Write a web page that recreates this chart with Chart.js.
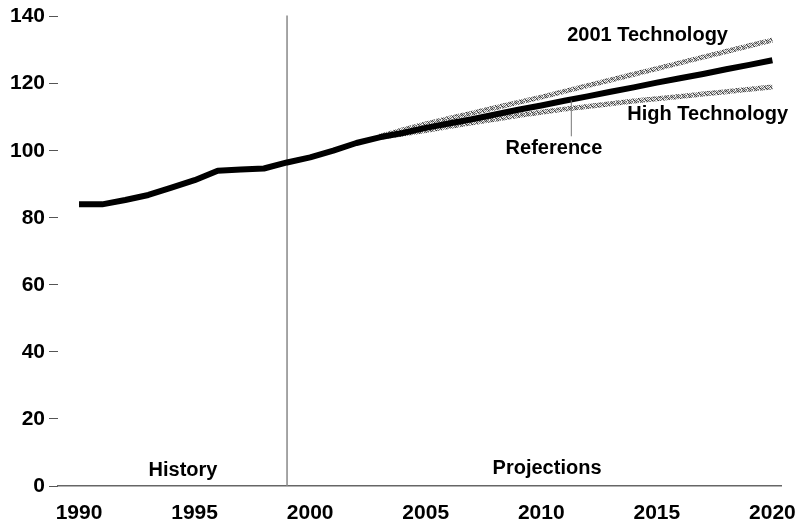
<!DOCTYPE html>
<html lang="en">
<head>
    <meta charset="UTF-8">
    <title>Energy consumption projections</title>
    <script src="https://cdn.jsdelivr.net/npm/chart.js"></script>
    <style>
        html, body {
            margin: 0;
            padding: 0;
            background: #fff;
        }
        .wrap {
            width: 803px;
            height: 527px;
        }
    </style>
</head>
<body>

<div class="wrap">
    <canvas id="energyChart" width="803" height="527"></canvas>
</div>

<script>
    const years = [];
    for (let y = 1990; y <= 2020; y++) years.push(y);

    const reference = [84, 84, 85.3, 86.8, 89, 91.2, 94, 94.4, 94.7, 96.5,
        98, 100, 102.3, 104, 105.3, 106.8, 108.1, 109.4, 110.8, 112.2,
        113.5, 114.9, 116.2, 117.6, 118.9, 120.3, 121.6, 122.9, 124.3, 125.6, 127];

    const techYears = [2003, 2004, 2005, 2006, 2007, 2008, 2009, 2010, 2011,
        2012, 2013, 2014, 2015, 2016, 2017, 2018, 2019, 2020];
    const tech2001 = [104.3, 106.2, 108, 109.6, 111.2, 112.8, 114.4, 116,
        117.7, 119.4, 121.1, 122.8, 124.5, 126.2, 127.9, 129.6, 131.3, 133];
    const highTech = [104, 105, 106, 107.2, 108.3, 109.4, 110.5, 111.5,
        112.4, 113.2, 114, 114.8, 115.5, 116.2, 116.9, 117.6, 118.3, 119];

    const yTicks = [0, 20, 40, 60, 80, 100, 120, 140];
    const xTicks = [1990, 1995, 2000, 2005, 2010, 2015, 2020];
    const historyEnd = 1999;

    // etiquetas: [texto, ano, valor]
    const labels = [
        ['2001 Technology', 2014.6, 134.3],
        ['High Technology', 2017.2, 110.8],
        ['Reference', 2010.55, 100.7],
        ['History', 1994.5, 4.6],
        ['Projections', 2010.25, 5.1]
    ];
    const leader = [2011.3, 115, 104.3];

    const FONT = '"Liberation Sans", Arial, sans-serif';

    // textura cinza (padrão fixo) para as linhas de tecnologia
    function texture() {
        const shades = [
            ['#444', '#ddd', '#888', '#fff', '#666', '#bbb'],
            ['#aaa', '#555', '#eee', '#777', '#ccc', '#444'],
            ['#888', '#fff', '#333', '#bbb', '#999', '#eee'],
            ['#eee', '#777', '#bbb', '#444', '#fff', '#888'],
            ['#555', '#ccc', '#fff', '#888', '#333', '#ccc'],
            ['#ccc', '#888', '#666', '#eee', '#aaa', '#555']
        ];
        const c = document.createElement('canvas');
        c.width = 6;
        c.height = 6;
        const g = c.getContext('2d');
        shades.forEach((row, j) => row.forEach((col, i) => {
            g.fillStyle = col;
            g.fillRect(i, j, 1, 1);
        }));
        return g.createPattern(c, 'repeat');
    }

    const ctx = document.getElementById('energyChart').getContext('2d');
    const grey = texture();

    const overlay = {
        id: 'overlay',
        beforeDatasetsDraw(chart) {
            const { ctx, chartArea, scales: { x } } = chart;
            const px = x.getPixelForValue(historyEnd);
            ctx.save();
            ctx.strokeStyle = '#888';
            ctx.lineWidth = 1.5;
            ctx.beginPath();
            ctx.moveTo(px, chartArea.top - 1);
            ctx.lineTo(px, chartArea.bottom);
            ctx.stroke();
            ctx.restore();
        },
        afterDatasetsDraw(chart) {
            const { ctx, scales: { x, y } } = chart;
            ctx.save();
            // linha indicadora da referência
            const lx = x.getPixelForValue(leader[0]);
            ctx.strokeStyle = '#777';
            ctx.lineWidth = 1;
            ctx.beginPath();
            ctx.moveTo(lx, y.getPixelForValue(leader[1]));
            ctx.lineTo(lx, y.getPixelForValue(leader[2]));
            ctx.stroke();

            ctx.fillStyle = '#000';
            ctx.font = 'bold 20px ' + FONT;
            ctx.textAlign = 'center';
            ctx.textBaseline = 'middle';
            labels.forEach(([t, xv, yv]) => {
                ctx.fillText(t, x.getPixelForValue(xv), y.getPixelForValue(yv));
            });
            ctx.restore();
        }
    };

    new Chart(ctx, {
        type: 'line',
        data: {
            datasets: [
                {
                    label: 'Reference',
                    data: years.map((yr, i) => ({ x: yr, y: reference[i] })),
                    borderColor: '#000',
                    borderWidth: 6
                },
                {
                    label: '2001 Technology',
                    data: techYears.map((yr, i) => ({ x: yr, y: tech2001[i] })),
                    borderColor: grey,
                    borderWidth: 5
                },
                {
                    label: 'High Technology',
                    data: techYears.map((yr, i) => ({ x: yr, y: highTech[i] })),
                    borderColor: grey,
                    borderWidth: 5
                }
            ]
        },
        options: {
            responsive: false,
            animation: false,
            layout: { padding: { top: 16, right: 20, left: 0, bottom: 0 } },
            elements: {
                point: { radius: 0 },
                line: { tension: 0, borderCapStyle: 'butt', borderJoinStyle: 'round' }
            },
            plugins: {
                legend: { display: false },
                tooltip: { enabled: false },
                title: { display: false }
            },
            scales: {
                x: {
                    type: 'linear',
                    min: 1989.09,
                    max: 2020.39,
                    afterBuildTicks: axis => { axis.ticks = xTicks.map(v => ({ value: v })); },
                    afterFit: axis => { axis.height = 41; },
                    grid: { display: false },
                    border: { display: true, color: '#666', width: 1.5 },
                    ticks: {
                        padding: 7,
                        color: '#000',
                        maxRotation: 0,
                        autoSkip: false,
                        font: { family: FONT, size: 21, weight: 'bold' },
                        callback: v => String(v)
                    }
                },
                y: {
                    min: 0,
                    max: 140,
                    afterBuildTicks: axis => { axis.ticks = yTicks.map(v => ({ value: v })); },
                    afterFit: axis => { axis.width = 58; },
                    border: { display: false },
                    grid: {
                        drawOnChartArea: false,
                        drawTicks: true,
                        tickLength: 9,
                        color: '#555',
                        lineWidth: 1
                    },
                    ticks: {
                        padding: 4,
                        color: '#000',
                        font: { family: FONT, size: 21, weight: 'bold' }
                    }
                }
            }
        },
        plugins: [overlay]
    });
</script>

</body>
</html>
